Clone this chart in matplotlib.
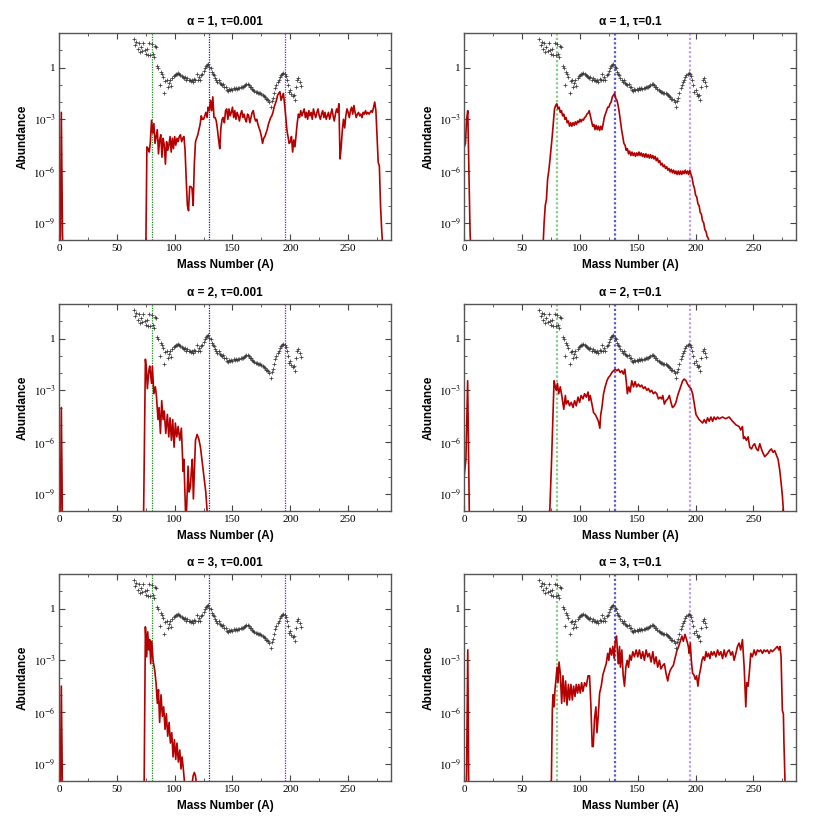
import numpy as np
import matplotlib
matplotlib.use("Agg")
import matplotlib.pyplot as plt

# solar r-process residuals (log10), A = 65..209
SOLAR_A = np.arange(65, 210)
SOLAR_LOG = [
    1.63, 1.3, 1.5, 1.05, 1.4, 0.9, 1.2, 0.95, 1.45, 1.0,
    0.8, 1.1, 0.75, 1.4, 0.7, 1.35, 0.8, 0.6, 1.25, 1.2,
    0.1, -0.05, -1.0, -0.25, -0.4, -0.55, -1.45, -0.8, -0.7, -1.1,
    -0.9, -0.75, -1.05, -0.6, -0.5, -0.45, -0.35, -0.4, -0.3, -0.38,
    -0.45, -0.5, -0.55, -0.6, -0.55, -0.7, -0.6, -0.75, -0.7, -0.8,
    -0.72, -0.85, -0.65, -0.75, -0.4, -0.7, -0.55, -0.7, -0.45, -0.35,
    -0.2, -0.05, 0.1, 0.15, 0.2, 0.05, -0.05, -0.25, -0.35, -0.45,
    -0.6, -0.7, -0.85, -0.75, -0.9, -0.95, -1.0, -0.95, -1.15, -1.1,
    -1.3, -1.35, -1.25, -1.3, -1.25, -1.3, -1.2, -1.25, -1.2, -1.25,
    -1.2, -1.2, -1.15, -1.1, -1.1, -1.05, -1.0, -0.95, -0.95, -1.0,
    -1.1, -1.15, -1.25, -1.3, -1.35, -1.4, -1.4, -1.45, -1.5, -1.5,
    -1.55, -1.6, -1.65, -1.7, -1.8, -1.85, -1.9, -2.0, -2.3, -1.95,
    -1.75, -1.5, -1.2, -1.0, -0.85, -0.7, -0.55, -0.45, -0.4, -0.33,
    -0.35, -0.5, -0.7, -1.0, -1.4, -1.3, -1.55, -1.65, -1.6, -1.9,
    -1.1, -0.7, -0.6, -0.85, -1.05,
]

# alpha=1, tau=0.001
P1_A = [1, 2, 3, 4] + list(range(75, 282))
P1_LOG = [-12, -2.6, -9.6, -12,
    -11, -4.6, -4.7, -4.9, -4.3, -3.06, -3.8, -3.25, -4.4, -4.0,
    -3.6, -5.0, -4.2, -3.9, -5.2, -4.1, -4.5, -5.6, -4.3, -4.8,
    -4.5, -4.0, -4.9, -4.1, -4.7, -4.0, -4.5, -4.1, -4.3, -4.0,
    -3.9, -4.3, -4.1, -4.0, -4.8, -6.5, -8.0, -8.3, -6.9, -6.9,
    -7.0, -8.0, -5.6, -4.3, -4.1, -3.9, -3.6, -3.3, -2.8, -3.0,
    -3.0, -2.8, -2.6, -2.9, -2.3, -2.5, -1.9, -2.5, -1.7, -2.9,
    -2.9, -3.1, -3.6, -4.2, -4.7, -3.5, -3.0, -2.9, -3.2, -2.5,
    -2.4, -3.0, -2.4, -2.8, -2.6, -2.3, -2.9, -2.5, -3.0, -2.6,
    -2.8, -3.1, -2.7, -2.5, -2.9, -2.7, -3.0, -3.15, -2.7, -2.8,
    -3.2, -2.9, -2.6, -2.5, -2.9, -3.1, -3.0, -3.3, -3.5, -3.7,
    -4.0, -4.4, -4.1, -4.0, -3.8, -3.6, -3.3, -3.1, -2.9, -2.8,
    -2.6, -2.3, -2.1, -1.9, -1.6, -1.5, -1.4, -1.9, -1.7, -1.5,
    -2.1, -2.8, -3.6, -4.0, -4.4, -4.3, -4.0, -4.9, -4.2, -4.6,
    -3.9, -3.2, -2.7, -2.9, -2.5, -2.8, -2.6, -2.4, -2.9, -2.6,
    -3.0, -2.5, -2.8, -2.6, -3.0, -2.4, -2.7, -2.9, -2.6, -2.4,
    -2.8, -3.0, -2.7, -2.5, -2.9, -2.6, -3.0, -2.8, -2.6, -3.0,
    -2.7, -2.4, -2.8, -3.1, -2.7, -2.4, -2.6, -2.1, -5.3, -4.6,
    -3.6, -3.0, -3.5, -2.8, -2.4, -2.6, -2.9, -2.5, -2.3, -2.7,
    -2.2, -2.6, -2.9, -2.7, -2.6, -2.8, -2.7, -2.9, -2.6, -2.7,
    -2.5, -2.7, -2.6, -2.7, -2.6, -2.5, -2.6, -2.3, -2.0, -2.5,
    -4.0, -5.5, -5.7, -8.0, -9.4, -10.5, -12]

# alpha=1, tau=0.1
P2_A = [0, 1, 2, 3, 4, 5, 6] + list(range(68, 214))
P2_LOG = [-4.6, -4.4, -3.0, -2.5, -6.0, -9.6, -11,
    -10.5, -9.0, -8.0, -7.65, -6.5, -6.0, -5.4, -4.7, -4.0, -3.2,
    -2.4, -2.2, -2.1, -2.4, -2.3, -2.6, -2.5, -2.8, -2.7, -3.0,
    -2.9, -3.2, -3.1, -3.4, -3.2, -3.4, -3.2, -3.35, -3.15, -3.3,
    -3.1, -3.2, -3.0, -3.15, -3.0, -3.05, -2.9, -2.85, -2.7, -2.65,
    -2.5, -2.8, -3.1, -3.4, -3.3, -3.6, -3.35, -3.6, -3.4, -3.65,
    -3.4, -3.6, -3.3, -2.9, -2.7, -2.5, -2.3, -2.3, -2.1, -2.0,
    -1.7, -1.6, -1.5, -1.8, -1.9, -2.2, -2.6, -3.1, -3.6, -4.0,
    -4.4, -4.5, -4.8, -4.7, -5.0, -4.85, -5.1, -4.9, -5.1, -4.95,
    -5.15, -4.95, -5.1, -4.9, -5.1, -4.95, -5.15, -5.0, -5.2, -5.0,
    -5.2, -5.05, -5.25, -5.05, -5.25, -5.1, -5.3, -5.15, -5.4, -5.25,
    -5.5, -5.4, -5.65, -5.55, -5.75, -5.65, -5.85, -5.75, -5.95, -5.85,
    -6.05, -5.9, -6.1, -5.95, -6.15, -6.0, -6.2, -6.0, -6.2, -6.0,
    -6.2, -6.0, -6.15, -5.95, -6.15, -6.0, -6.2, -5.95, -6.2, -6.4,
    -6.8, -7.0, -7.4, -7.5, -7.9, -8.0, -8.4, -8.5, -8.9, -9.0,
    -9.4, -9.5, -9.8, -9.9, -10.3, -11]

# alpha=2, tau=0.001
P3_A = [1, 2, 3, 4,
    73, 74.7, 75.5, 76.4, 77.6, 78.4, 80, 80.7, 82, 83.3, 84.2, 85.6, 86.5,
    87.7, 88.8, 90, 91, 92.3, 93.7, 94.9, 96, 97.2, 98.3, 99.5, 100.6, 101.8,
    103, 104.4, 105.8, 107.3, 108, 109.3, 110, 111.6, 112.5, 113.6, 114.5,
    115.3, 116.2, 118, 119.4, 120.8, 122.3, 124.6, 126.9, 128, 129]
P3_LOG = [-12, -4.0, -11, -12,
    -11, -1.2, -1.7, -2.9, -1.9, -1.6, -2.6, -1.6, -3.2, -2.8, -3.3, -4.7, -4.0,
    -5.5, -3.6, -4.7, -4.2, -5.5, -4.4, -5.7, -4.6, -5.9, -4.7, -6.3, -4.9, -5.7,
    -5.1, -5.9, -5.2, -7.7, -7.0, -9.9, -10.5, -7.4, -8.9, -8.6, -7.6,
    -7.0, -9.3, -5.9, -5.56, -5.8, -6.3, -7.6, -8.9, -9.95, -11]

# alpha=2, tau=0.1
P4_A = [0, 1.4, 2.9, 4.3, 5,
    73.9, 75.3, 76.7, 77.6, 78.7, 79.6, 80.5, 81.6, 83, 84.5, 86, 87.4, 88.2,
    89.7, 91, 92.5, 94, 95.4, 96.8, 98.3, 99.7, 101, 102.6, 104, 105.5, 107,
    107.8, 108.9, 110.6, 111.8, 113.2, 114.7, 116, 117.2, 118, 119, 120.4,
    121.8, 123.3, 124.7, 126, 127.6, 129, 130.5, 131.9, 133.3, 134.8, 136.2,
    137.6, 138.8, 140, 141, 142.2, 143.4, 144.8, 146.3, 147.7, 149, 150.6,
    152, 153.4, 154.9, 156.3, 157.8, 159.2, 160.6, 162, 163.5, 165, 166.4,
    167.8, 169.3, 170.7, 171.6, 173, 174.4, 175.9, 177.3, 178.7, 180, 181.6,
    183, 184.5, 186, 187.4, 188.8, 190.2, 191.7, 193, 194.5, 196, 197.4,
    198.9, 200.3, 201.7, 203, 204.6, 206, 207.5, 209, 210.3, 211.8, 213.2,
    214.7, 216, 217.5, 219, 220.4, 223.3, 226, 229, 232, 234.8, 237.6, 239,
    240.5, 241.4, 242.5, 244, 245.4, 246.8, 248.3, 249.7, 251, 252.6, 254,
    255.5, 256.9, 258.3, 259.8, 261.2, 262.6, 264, 265.5, 267, 268.4, 269.8,
    271.3, 272.7, 274, 275, 275.9, 277]
P4_LOG = [-7.9, -7.0, -2.45, -9.95, -12,
    -10, -7.4, -4.4, -2.45, -2.8, -3.0, -2.6, -3.2, -2.8, -3.4, -4.1, -3.3, -3.8,
    -3.6, -3.9, -3.7, -4.0, -3.6, -3.9, -3.4, -3.7, -3.3, -3.5, -3.2, -3.4, -3.1,
    -3.6, -3.3, -3.9, -4.3, -4.4, -4.6, -4.8, -5.2, -4.4, -4.0, -3.2,
    -2.8, -2.45, -2.25, -2.16, -1.97, -1.87, -1.78, -1.87, -1.78, -1.97, -1.87,
    -2.06, -1.78, -2.45, -3.2, -2.8, -3.1, -2.45, -2.8, -2.5, -2.8, -2.64,
    -2.8, -2.7, -2.9, -2.8, -3.0, -2.9, -3.1, -3.0, -3.2, -3.1, -3.2,
    -3.5, -3.4, -3.5, -3.3, -3.8, -3.6, -3.5, -3.3, -3.7, -4.0, -3.9,
    -3.7, -3.3, -3.0, -2.7, -2.45, -2.35, -2.45, -2.64, -2.8, -2.9, -3.2,
    -3.8, -4.4, -4.55, -4.7, -4.8, -4.9, -4.7, -4.9, -4.6, -4.8, -4.55,
    -4.8, -4.55, -4.7, -4.55, -4.65, -4.55, -4.65, -4.55, -4.8, -5.0, -5.1, -5.3,
    -5.1, -5.8, -5.7, -5.9, -5.7, -6.3, -6.4, -6.2, -6.1, -6.4, -6.5,
    -6.1, -6.4, -6.65, -6.85, -6.75, -6.65, -6.5, -6.4, -6.6, -6.5, -6.75,
    -7.0, -7.6, -8.4, -9.1, -9.95, -12]

# alpha=3, tau=0.001
P5_A = [1, 2, 3,
    73.5, 74.7, 75.8, 76.7, 77.6, 78.4, 79.3, 80.2, 81.3, 82.8, 83.9, 85, 86,
    87, 88.2, 89.4, 90.5, 91.7, 92.8, 94, 95.2, 96.3, 97.5, 98.6, 99.8, 100.9,
    102, 103.2, 104.4, 105.5, 106.4, 107.5, 108.4, 109.5, 114, 115, 116, 117,
    118, 119, 120]
P5_LOG = [-12, -4.5, -11,
    -11, -1.06, -2.8, -1.35, -2.4, -1.8, -3.2, -1.9, -3.0, -3.6, -4.3, -5.5, -4.7,
    -6.6, -5.0, -6.25, -5.7, -7.0, -6.1, -7.4, -6.6, -7.8, -7.2, -8.6, -7.6, -8.75,
    -7.8, -8.9, -8.2, -9.3, -8.6, -9.3, -10, -12, -12, -10.2, -9.7, -9.5,
    -9.7, -10.3, -12]

# alpha=3, tau=0.1
P6_A = [1, 2, 3, 4,
    75.3, 76.1, 76.7, 77.6, 78.4, 79.3, 80.2, 81, 81.9, 83, 84.2, 85.3, 86.5,
    87.6, 88.8, 90, 91, 92.2, 93.4, 94.5, 95.7, 96.8, 98, 99, 100.3, 101.4,
    102.6, 104, 105.5, 107, 108.3, 109.5, 110.6, 111.5, 112.6, 113.8, 114.7,
    115.8, 117, 118.4, 119.8, 121.3, 122.7, 124, 125, 126, 127.3, 128.4, 129.6,
    130.5, 131.6, 132.5, 133.3, 134.2, 135, 136.2, 137.4, 138.5, 139.7, 140.8,
    142, 143.1, 144.3, 145.7, 147.1, 148.6, 150, 151.4, 152.9, 154.3, 155.7,
    157.2, 158.6, 160, 161.5, 163, 164.4, 165.8, 167.2, 168.7, 170, 171.6, 173,
    174.4, 175.9, 176.7, 177.9, 179.6, 180.7, 182.5, 184, 185.3, 186.8, 188.2,
    189.4, 190.8, 192.2, 193.7, 194.5, 195.4, 196.3, 197.4, 198.6, 199.7, 200.9,
    202, 203.2, 204.3, 205.5, 206.6, 207.8, 209, 210, 211.2, 212.4, 213.5,
    214.7, 216, 217.5, 219, 220.4, 221.8, 223.3, 224.7, 226, 227.6, 229, 230.5,
    231.9, 233.3, 234.8, 236.2, 237.6, 239, 240.5, 242, 243.4, 244.3, 245.4,
    246.6, 247.7, 249.1, 250.6, 252, 253.4, 254.9, 256.3, 257.8, 259.2, 260.6,
    262, 263.5, 265, 266.4, 267.8, 269.3, 270.7, 272, 273, 273.9, 275, 275.9,
    276.4, 277.3, 278]
P6_LOG = [-12, -9.5, -2.4, -12,
    -10, -5.9, -5.0, -5.7, -4.7, -4.1, -3.4, -4.3, -3.1, -3.75, -5.5, -3.9, -5.4,
    -4.2, -5.6, -4.4, -5.3, -4.4, -5.3, -4.5, -5.1, -4.4, -4.9, -4.4, -4.9, -4.3,
    -4.8, -4.3, -4.5, -3.9, -3.9, -5.7, -8.0, -8.0, -6.4, -5.7, -7.2,
    -6.25, -4.9, -4.5, -3.85, -3.5, -3.2, -2.6, -3.0, -2.3, -2.7, -2.2, -2.9,
    -1.9, -1.6, -2.6, -3.2, -2.2, -3.4, -2.4, -3.9, -4.5, -3.4, -3.0,
    -3.4, -2.7, -3.0, -2.5, -2.8, -2.4, -2.8, -2.4, -2.9, -2.5, -3.0,
    -2.4, -2.8, -2.6, -3.1, -2.5, -3.2, -2.8, -3.4, -3.0, -3.5, -3.3, -3.2,
    -3.75, -4.2, -3.9, -3.6, -3.4, -3.3, -2.8, -2.4, -2.2, -1.9, -1.6,
    -1.9, -1.5, -1.8, -2.2, -2.6, -2.0, -3.0, -3.75, -3.85, -4.1, -3.9,
    -4.5, -3.85, -3.5, -3.0, -2.8, -3.0, -2.5, -2.8, -2.6, -2.9, -2.5,
    -2.7, -2.5, -2.8, -2.4, -2.7, -2.5, -2.9, -2.4, -2.8, -2.5, -2.4, -2.7,
    -2.5, -3.0, -2.6, -2.2, -2.0, -2.4, -1.8, -3.4, -5.7, -4.3, -4.5,
    -3.6, -2.6, -2.8, -2.4, -2.7, -2.4, -2.5, -2.4, -2.6, -2.4, -2.5,
    -2.4, -2.6, -2.4, -2.5, -2.4, -2.3, -2.2, -2.4, -2.2, -2.8, -5.9, -6.1,
    -7.8, -10, -12]

TITLES = ["α = 1, τ=0.001", "α = 1, τ=0.1",
          "α = 2, τ=0.001", "α = 2, τ=0.1",
          "α = 3, τ=0.001", "α = 3, τ=0.1"]
SERIES = [(P1_A, P1_LOG), (P2_A, P2_LOG), (P3_A, P3_LOG),
          (P4_A, P4_LOG), (P5_A, P5_LOG), (P6_A, P6_LOG)]
PEAKS = [80, 130, 195]

plt.rcParams["mathtext.fontset"] = "stix"

fig = plt.figure(figsize=(8.3, 8.3), dpi=100)
lefts = [0.0711, 0.5594]
bottoms = [0.7108, 0.3843, 0.0590]
w, h = 0.3999, 0.2494

line_cols_left = ["#1a8a1a", "#1a1a99", "#7a1acc"]
line_cols_right = ["#88cc88", "#5a5ad0", "#c39cf0"]

for i, (title, (mass, logy)) in enumerate(zip(TITLES, SERIES)):
    row, col = divmod(i, 2)
    ax = fig.add_axes([lefts[col], bottoms[row], w, h])
    ax.set_yscale("log")
    ax.set_xlim(0, 287)
    ax.set_ylim(1e-10, 1e2)

    cols = line_cols_left if col == 0 else line_cols_right
    lw = 0.9 if col == 0 else 1.6
    for x0, c in zip(PEAKS, cols):
        ax.axvline(x0, color=c, lw=lw, ls=(0, (1, 1)), zorder=1)

    ax.plot(SOLAR_A, 10.0 ** np.array(SOLAR_LOG), ls="none", marker="+",
            ms=3.5, mew=0.55, color="#3a3a3a", zorder=3)
    ax.plot(mass, 10.0 ** np.array(logy), color="#b30000", lw=1.2, zorder=2)

    ax.set_xticks([0, 50, 100, 150, 200, 250])
    ax.set_xticks([25, 75, 125, 175, 225, 275], minor=True)
    ax.set_yticks([1, 1e-3, 1e-6, 1e-9])
    ax.set_yticklabels(["1", "$10^{-3}$", "$10^{-6}$", "$10^{-9}$"])
    ax.set_yticks([10.0 ** k for k in range(-10, 3) if k % 3 != 0], minor=True)
    ax.yaxis.set_minor_formatter(matplotlib.ticker.NullFormatter())
    ax.tick_params(which="both", direction="in", top=True, right=True,
                   color="#444444", labelsize=8, pad=2.5)
    ax.tick_params(which="major", length=4, width=0.8)
    ax.tick_params(which="minor", length=2.5, width=0.6)
    for lab in ax.get_xticklabels() + ax.get_yticklabels():
        lab.set_fontfamily("Liberation Serif")
    for sp in ax.spines.values():
        sp.set_color("#555555")
        sp.set_linewidth(1.0)

    ax.set_title(title, fontsize=8.5, fontweight="bold", family="Liberation Sans", pad=6)
    ax.set_xlabel("Mass Number (A)", fontsize=8.5, fontweight="bold",
                  family="Liberation Sans", labelpad=5)
    ax.set_ylabel("Abundance", fontsize=8.5, fontweight="bold",
                  family="Liberation Sans", labelpad=3)

fig.savefig("out.png", dpi=100)
